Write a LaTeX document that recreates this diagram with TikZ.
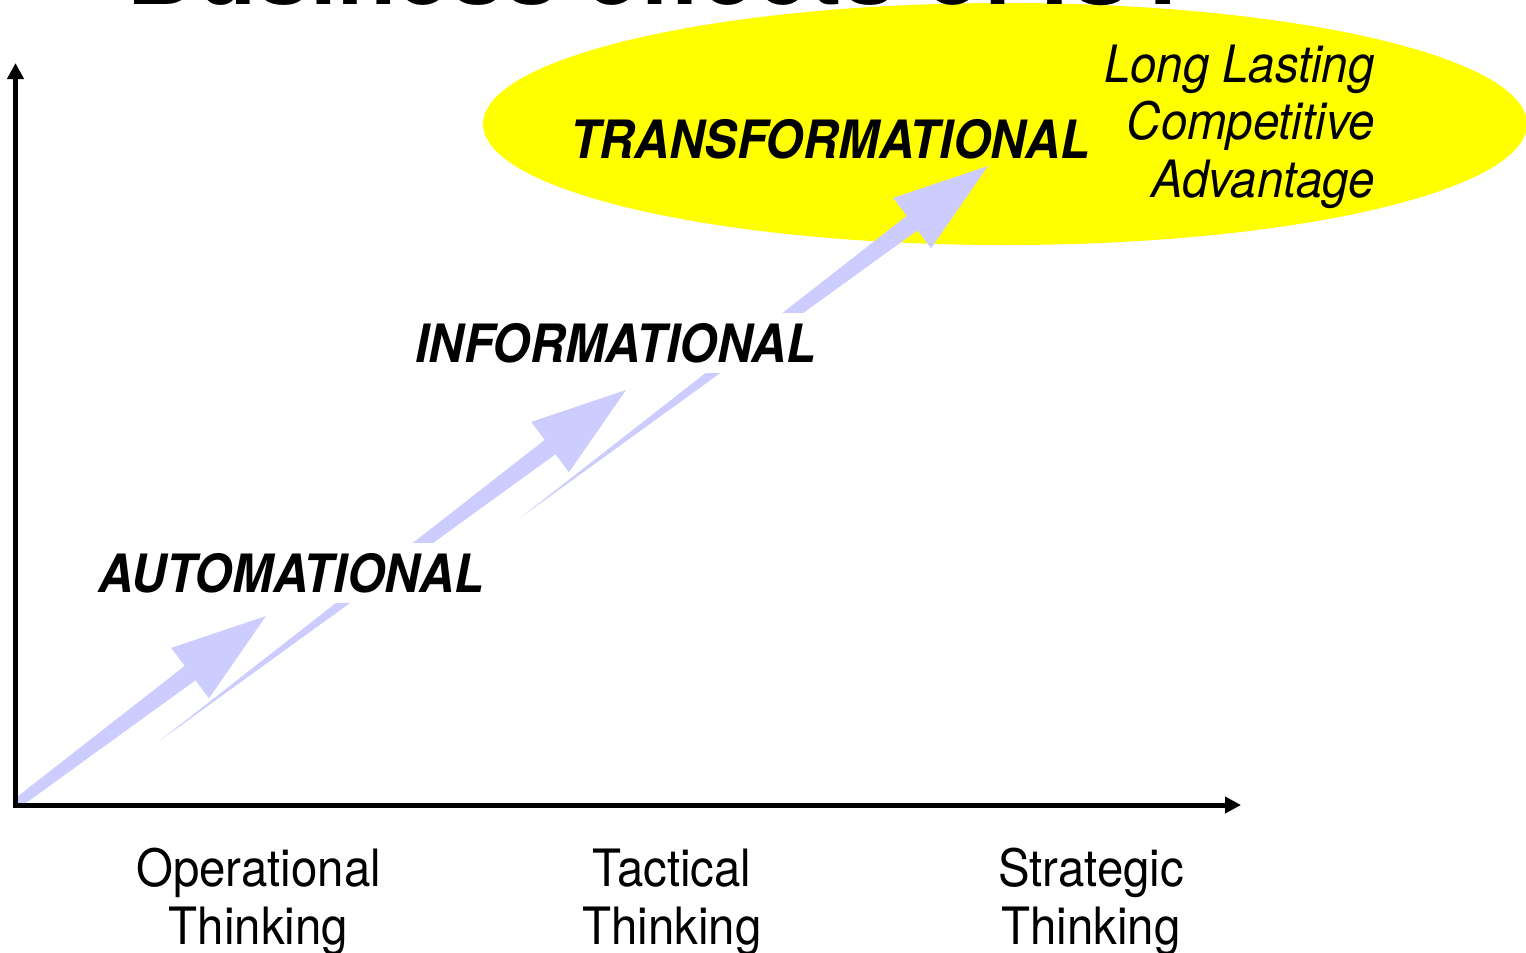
\documentclass[tikz,border=0pt]{standalone}
\usepackage{fontspec}
\setmainfont{TeX Gyre Heros}[FakeStretch=0.92]
\usetikzlibrary{arrows.meta}
\definecolor{lav}{HTML}{CCCCFF}
\definecolor{yel}{HTML}{FFFF00}
\begin{document}
\begin{tikzpicture}[x=0.5pt,y=-0.5pt,
  lbl/.style={font=\fontsize{26.4pt}{28.75pt}\selectfont\bfseries\itshape, inner sep=0pt},
  boxed/.style={fill=white, text height=18.8pt, text depth=0pt, inner ysep=5.5pt, inner xsep=4pt},
  axlbl/.style={font=\fontsize{25.75pt}{28.75pt}\selectfont, inner sep=0pt, align=center, anchor=base},
  axis/.style={line width=2.5pt, {Triangle[length=8pt,width=8pt]}-{Triangle[length=8pt,width=8pt]}},
  tarrow/.pic={\fill[lav] (-467.9,351.9) -- (-81.3,49.9) -- (-94.8,31.9) -- (0,0)
       -- (-57,82.3) -- (-70.5,64.3) -- cycle;}
]
\clip (0,0) rectangle (1526,953);
% yellow ellipse
\fill[yel] (1005,124) ellipse [x radius=522, y radius=121];
% cut-off title
\node[font=\fontsize{52.8pt}{60pt}\selectfont\bfseries, anchor=base, inner sep=0pt] (title) at (660,4) {Business effects of IS?};
% arrows
\begin{scope}
  \clip (15.5,0) rectangle (1526,805);
  \pic at (266,616) {tarrow};
\end{scope}
\pic at (626,390) {tarrow};
\pic at (988,166) {tarrow};
% labels
\node[lbl, boxed, anchor=base] (auto) at (291,592) {AUTOMATIONAL};
\node[lbl, boxed, anchor=base] (info) at (616,362) {INFORMATIONAL};
\node[lbl, anchor=base] (trans) at (830,158) {TRANSFORMATIONAL};
\node[font=\fontsize{25.75pt}{28.75pt}\selectfont\itshape, inner sep=0pt, align=right, anchor=base east] (adv) at (1375,197) {Long Lasting\\Competitive\\Advantage};
% axes
\coordinate (ytip) at (15.5,63);
\coordinate (xtip) at (1241,805);
\draw[axis] (ytip) |- (xtip);
% axis labels
\node[axlbl] (op) at (258.5,944) {Operational\\Thinking};
\node[axlbl] (tac) at (672,944) {Tactical\\Thinking};
\node[axlbl] (str) at (1091,944) {Strategic\\Thinking};
\end{tikzpicture}
\end{document}
